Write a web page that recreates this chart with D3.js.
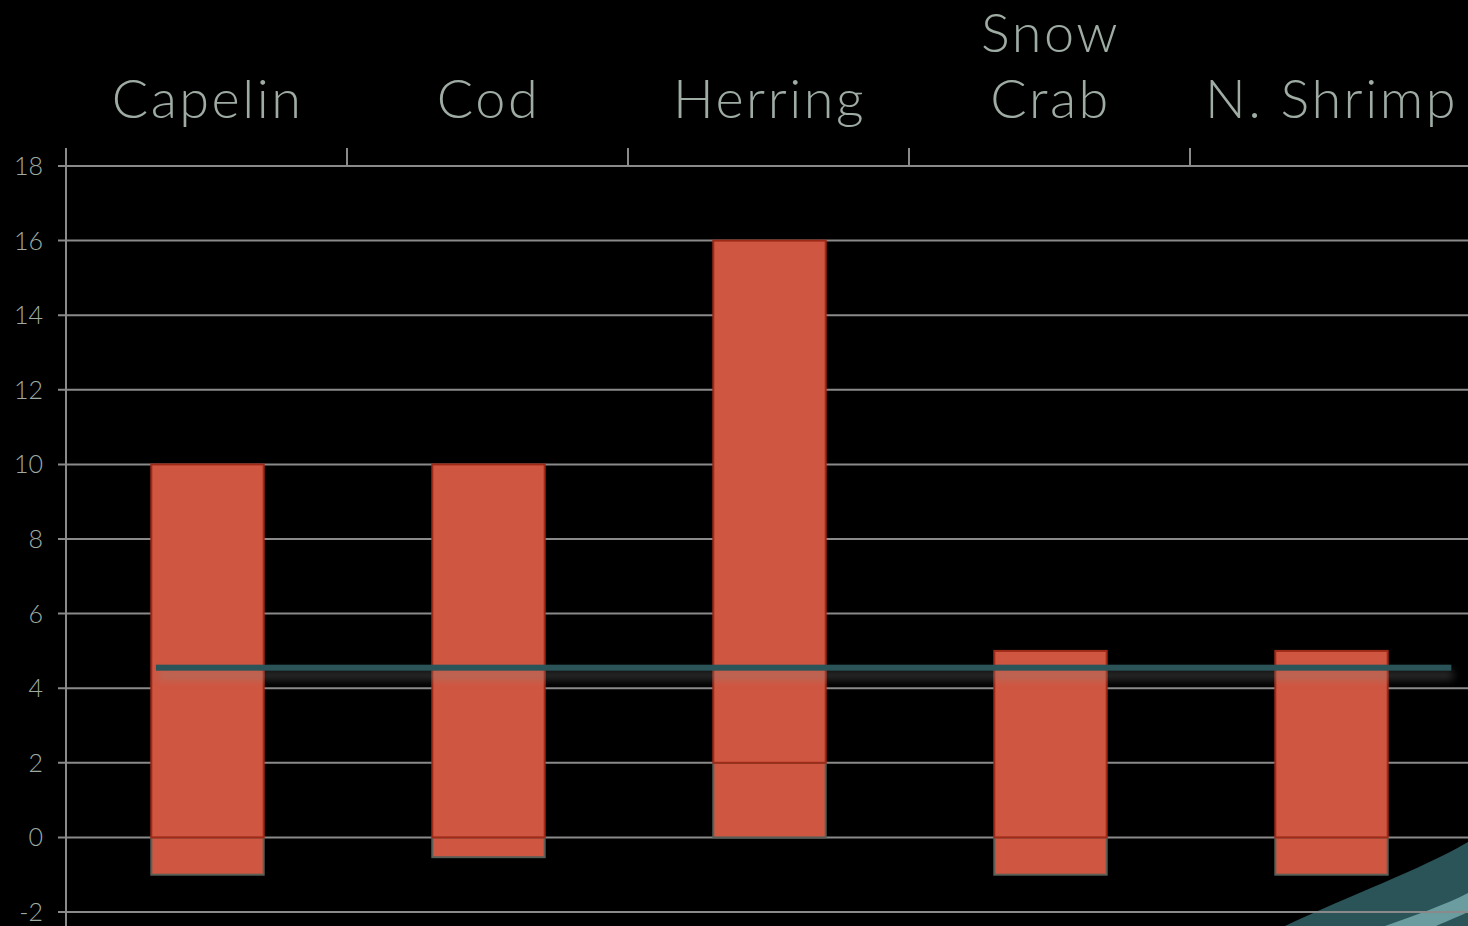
<!DOCTYPE html>
<html>
<head>
<meta charset="utf-8">
<script src="https://cdn.jsdelivr.net/npm/d3@7"></script>
<style>
  html, body { margin:0; padding:0; background:#000; overflow:hidden; }
  svg { display:block; }
</style>
</head>
<body>
<svg id="chart" width="1468" height="926"></svg>
<script>
const categories = ["Capelin", "Cod", "Herring", "Snow Crab", "N. Shrimp"];
const lowerStart = [-1, -0.53, 0, -1, -1];
const splitValue = [0, 0, 2, 0, 0];
const upperEnd = [10, 10, 16, 5, 5];
const referenceValue = 4.55;
const yTicks = [-2, 0, 2, 4, 6, 8, 10, 12, 14, 16, 18];

const W = 1468, H = 926;
const svg = d3.select("#chart");
const textColor = "#9eaca4";
const gridColor = "#8a8a8a";

const x = d3.scaleBand().domain(categories).range([66, 1471]).padding(0);
const y = d3.scaleLinear().domain([-2, 18]).range([912, 166]);
const bw = x.bandwidth();
const barW = bw * 0.4;

const defs = svg.append("defs");
const f = defs.append("filter").attr("id", "shadow")
  .attr("filterUnits", "userSpaceOnUse")
  .attr("x", 0).attr("y", 600).attr("width", W).attr("height", 140);
f.append("feGaussianBlur").attr("stdDeviation", 4);

// decorative swoosh bottom-right
svg.append("path")
  .attr("d", `M1285,926 C1350,895 1420,870 1468,842 L1468,926 Z`)
  .attr("fill", "#2a5458");
svg.append("path")
  .attr("d", `M1385,926 C1415,915 1445,905 1468,893 L1468,912 C1455,918 1445,922 1436,926 Z`)
  .attr("fill", "#6a9ca0");

// gridlines
svg.append("g").selectAll("line").data(yTicks).join("line")
  .attr("x1", 58).attr("x2", W)
  .attr("y1", d => y(d)).attr("y2", d => y(d))
  .attr("stroke", gridColor).attr("stroke-width", 2);

// y axis line
svg.append("line").attr("x1", 66).attr("x2", 66).attr("y1", 148).attr("y2", H)
  .attr("stroke", gridColor).attr("stroke-width", 2);

// top category ticks
svg.append("g").selectAll("line").data(categories.slice(1)).join("line")
  .attr("x1", d => x(d)).attr("x2", d => x(d))
  .attr("y1", 148).attr("y2", y(18))
  .attr("stroke", gridColor).attr("stroke-width", 2);

// y tick labels
svg.append("g").selectAll("text").data(yTicks).join("text")
  .attr("x", 43).attr("y", d => y(d) + 9)
  .attr("text-anchor", "end")
  .attr("fill", textColor)
  .attr("font-family", "Lato, 'DejaVu Sans', sans-serif")
  .attr("font-weight", 300)
  .attr("font-size", 25)
  .text(d => d);

// category labels
const lab = svg.append("g").selectAll("text").data(categories).join("text")
  .attr("x", d => x(d) + bw / 2 + 1)
  .attr("y", 118)
  .attr("text-anchor", "middle")
  .attr("fill", textColor)
  .attr("font-family", "Lato, 'DejaVu Sans', sans-serif")
  .attr("font-weight", 300)
  .attr("font-size", 54)
  .attr("letter-spacing", 2.5);
lab.each(function(d) {
  const t = d3.select(this);
  const parts = d === "Snow Crab" ? ["Snow", "Crab"] : [d];
  parts.forEach((p, i) => {
    t.append("tspan").attr("x", x(d) + bw / 2 + 1)
      .attr("dy", i === 0 ? -(parts.length - 1) * 66 : 66)
      .text(p);
  });
});

// bars
const data = categories.map((c, i) => ({ c, a: lowerStart[i], s: splitValue[i], b: upperEnd[i] }));
const bars = svg.append("g");
bars.selectAll("rect.lower").data(data).join("rect")
  .attr("class", "lower")
  .attr("x", d => x(d.c) + (bw - barW) / 2 + 1)
  .attr("width", barW)
  .attr("y", d => y(d.s))
  .attr("height", d => y(d.a) - y(d.s))
  .attr("fill", "#cf5640").attr("stroke", "#5c5f58").attr("stroke-width", 2);
bars.selectAll("rect.upper").data(data).join("rect")
  .attr("class", "upper")
  .attr("x", d => x(d.c) + (bw - barW) / 2 + 1)
  .attr("width", barW)
  .attr("y", d => y(d.b))
  .attr("height", d => y(d.s) - y(d.b))
  .attr("fill", "#cf5640").attr("stroke", "#9e2a18").attr("stroke-width", 2);

// reference line with soft shadow
const rx1 = x(categories[0]) + bw * 0.32;
const rx2 = x(categories[categories.length - 1]) + bw * 0.93;
const ry = y(referenceValue);
svg.append("rect")
  .attr("x", rx1 + 2).attr("width", rx2 - rx1)
  .attr("y", ry + 3).attr("height", 9)
  .attr("fill", "#8a8a8a").attr("opacity", 0.35)
  .attr("filter", "url(#shadow)");
svg.append("rect")
  .attr("x", rx1).attr("width", rx2 - rx1)
  .attr("y", ry - 3).attr("height", 6)
  .attr("fill", "#2a5458");
</script>
</body>
</html>
